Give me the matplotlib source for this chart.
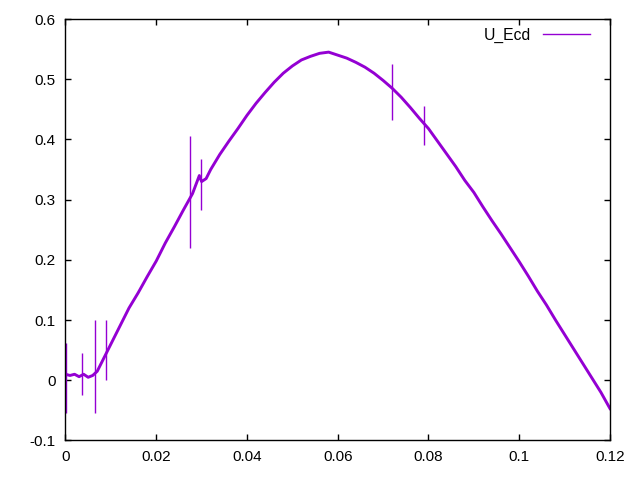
import matplotlib
matplotlib.use("Agg")
import matplotlib.pyplot as plt

# main curve
x_vals = [0.000, 0.001, 0.002, 0.003, 0.004, 0.005, 0.006, 0.007, 0.008, 0.009,
          0.010, 0.012, 0.014, 0.016, 0.018, 0.020, 0.022, 0.024, 0.026, 0.028,
          0.029, 0.0295, 0.030, 0.031, 0.032, 0.034, 0.036, 0.038, 0.040, 0.042,
          0.044, 0.046, 0.048, 0.050, 0.052, 0.054, 0.056, 0.058, 0.060, 0.062,
          0.064, 0.066, 0.068, 0.070, 0.072, 0.074, 0.076, 0.078, 0.080, 0.082,
          0.084, 0.086, 0.088, 0.090, 0.092, 0.094, 0.096, 0.098, 0.100, 0.102,
          0.104, 0.106, 0.108, 0.110, 0.112, 0.114, 0.116, 0.118, 0.120]
y_vals = [0.010, 0.008, 0.010, 0.006, 0.010, 0.005, 0.008, 0.015, 0.030, 0.045,
          0.060, 0.090, 0.120, 0.145, 0.172, 0.198, 0.228, 0.255, 0.283, 0.310,
          0.330, 0.340, 0.330, 0.335, 0.350, 0.375, 0.397, 0.418, 0.440, 0.460,
          0.478, 0.495, 0.510, 0.522, 0.532, 0.538, 0.543, 0.545, 0.540, 0.535,
          0.528, 0.520, 0.510, 0.498, 0.485, 0.470, 0.453, 0.435, 0.418, 0.397,
          0.376, 0.355, 0.332, 0.312, 0.288, 0.265, 0.243, 0.220, 0.197, 0.173,
          0.148, 0.125, 0.100, 0.076, 0.052, 0.028, 0.004, -0.020, -0.047]

# isolated spikes
spike_x = [0.0002, 0.0037, 0.0065, 0.0090, 0.0275, 0.0298, 0.0720, 0.0790]
spike_lo = [-0.055, -0.025, -0.055, 0.000, 0.220, 0.282, 0.432, 0.390]
spike_hi = [0.062, 0.045, 0.100, 0.100, 0.405, 0.368, 0.525, 0.455]

COLOR = "#9400D3"

fig = plt.figure(figsize=(6.4, 4.8), dpi=100)
ax = fig.add_axes([0.1023, 0.0823, 0.8508, 0.8781])

ax.plot(x_vals, y_vals, color=COLOR, lw=2.1, label="U_Ecd")
ax.vlines(spike_x, spike_lo, spike_hi, color=COLOR, lw=1.0)

ax.set_xlim(0, 0.12)
ax.set_ylim(-0.1, 0.6)
ax.set_xticks([0, 0.02, 0.04, 0.06, 0.08, 0.1, 0.12])
ax.set_xticklabels(["0", "0.02", "0.04", "0.06", "0.08", "0.1", "0.12"])
ax.set_yticks([-0.1, 0, 0.1, 0.2, 0.3, 0.4, 0.5, 0.6])
ax.set_yticklabels(["-0.1", "0", "0.1", "0.2", "0.3", "0.4", "0.5", "0.6"])
ax.tick_params(direction="in", length=4, width=1, top=True, right=True,
               labelsize=11, pad=7)
for lab in ax.get_xticklabels() + ax.get_yticklabels():
    lab.set_fontfamily("Liberation Sans")
for s in ax.spines.values():
    s.set_linewidth(1.0)

leg = ax.legend(loc="upper right", bbox_to_anchor=(0.964, 0.98),
                frameon=False, markerfirst=False,
                handlelength=3.0, handletextpad=0.8, borderaxespad=0.0,
                borderpad=0.0,
                prop={"family": "Liberation Sans", "size": 11.3})
for h in leg.get_lines():
    h.set_linewidth(1.0)

fig.savefig("out.png", dpi=100)
